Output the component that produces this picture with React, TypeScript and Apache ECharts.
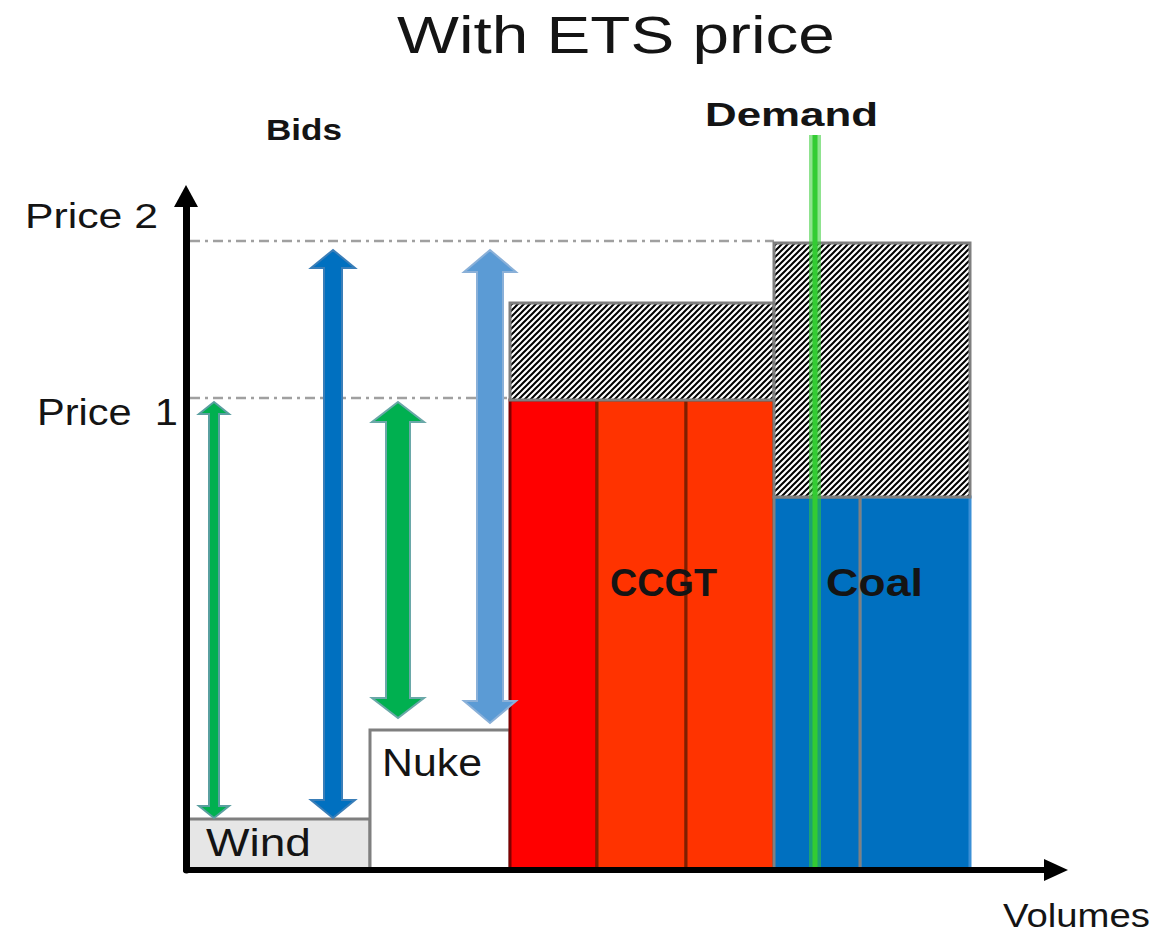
import React, { useEffect, useRef } from 'react';
import * as echarts from 'echarts';

// ---- Data (volume units on x, price units on y) ----
const blockNames = ['Wind', 'Nuke', 'CCGT 1', 'CCGT 2', 'CCGT 3', 'Coal 1', 'Coal 2'];
const blockStart = [0, 18.4, 32.4, 41.1, 50.0, 58.8, 67.4];
const blockEnd = [18.4, 32.4, 41.1, 50.0, 58.8, 67.4, 78.4];
const blockBid = [5.1, 14.0, 47.0, 47.0, 47.0, 37.3, 37.3];

const etsNames = ['CCGT + ETS', 'Coal + ETS'];
const etsStart = [32.4, 58.8];
const etsEnd = [58.8, 78.4];
const etsLow = [47.0, 37.3];
const etsHigh = [56.7, 62.7];

const bidArrowX = [2.8, 14.7, 21.2, 30.4];
const bidArrowLow = [5.2, 5.2, 15.2, 14.7];
const bidArrowHigh = [46.8, 62.0, 46.8, 62.0];

const priceNames = ['Price  1', 'Price 2'];
const priceLevels = [47.2, 62.9];
const priceLineEnd = [32.4, 58.8];

const demandVolume = 62.9;
const demandTop = 73.5;

// ---- Styles ----
const blockStyles = [
  { fill: '#e6e6e6', stroke: '#7f7f7f', z2: 1 },
  { fill: '#ffffff', stroke: '#7f7f7f', z2: 2 },
  { fill: '#ff0000', stroke: '#800000', z2: 3 },
  { fill: '#ff3300', stroke: '#7f1f00', z2: 4 },
  { fill: '#ff3300', stroke: '#7f1f00', z2: 5 },
  { fill: '#0070c0', stroke: '#808080', z2: 7 },
  { fill: '#0070c0', stroke: '#3b8fd6', z2: 6 },
];

const arrowStyles = [
  { fill: '#00b050', stroke: '#5a9fa0', shaft: 10, head: 30, len: 12 },
  { fill: '#0070c0', stroke: '#3a7eb8', shaft: 18, head: 44, len: 18 },
  { fill: '#00b050', stroke: '#6aa8a8', shaft: 24, head: 52, len: 20 },
  { fill: '#5b9bd5', stroke: '#8ab0d8', shaft: 26, head: 52, len: 22 },
];

const FONT = '"Liberation Sans", Arial, Helvetica, sans-serif';

const textItems = [
  { t: 'With ETS price', x: 397, y: 35, fs: 52, w: 438, bold: false },
  { t: 'Bids', x: 266, y: 129, fs: 30, w: 76, bold: true },
  { t: 'Demand', x: 705, y: 114, fs: 34, w: 173, bold: true },
  { t: 'Price 2', x: 25, y: 215, fs: 36, w: 133, bold: false },
  { t: 'Price  1', x: 37, y: 413, fs: 36, w: 141, bold: false },
  { t: 'Wind', x: 206, y: 843, fs: 38, w: 105, bold: false },
  { t: 'Nuke', x: 382, y: 763, fs: 38, w: 100, bold: false },
  { t: 'CCGT', x: 610, y: 583, fs: 38, w: 107, bold: true },
  { t: 'Coal', x: 826, y: 583, fs: 38, w: 97, bold: true },
  { t: 'Volumes', x: 1003, y: 915, fs: 34, w: 147, bold: false },
];

function makeHatch() {
  const s = 6;
  const c = document.createElement('canvas');
  c.width = s;
  c.height = s;
  const ctx = c.getContext('2d')!;
  ctx.fillStyle = '#ffffff';
  ctx.fillRect(0, 0, s, s);
  ctx.strokeStyle = '#000000';
  ctx.lineWidth = 2;
  ctx.beginPath();
  ctx.moveTo(-1, s + 1);
  ctx.lineTo(s + 1, -1);
  ctx.moveTo(-1, 1);
  ctx.lineTo(1, -1);
  ctx.moveTo(s - 1, s + 1);
  ctx.lineTo(s + 1, s - 1);
  ctx.stroke();
  return { image: c, repeat: 'repeat', imageWidth: s, imageHeight: s };
}

function measure(t: string, fs: number, bold: boolean) {
  const c = document.createElement('canvas');
  const ctx = c.getContext('2d')!;
  ctx.font = `${bold ? 'bold ' : ''}${fs}px ${FONT}`;
  return ctx.measureText(t).width || 1;
}

export default function App() {
  const ref = useRef<HTMLDivElement>(null);

  useEffect(() => {
    if (!ref.current) return;
    const chart = echarts.init(ref.current, null, { renderer: 'svg' });
    const hatch = makeHatch();

    const graphics = textItems.map((it) => ({
      type: 'text',
      x: it.x,
      y: it.y,
      scaleX: it.w / measure(it.t, it.fs, it.bold),
      z: 100,
      style: {
        x: 0,
        y: 0,
        text: it.t,
        fill: '#141414',
        font: `${it.bold ? 'bold ' : ''}${it.fs}px ${FONT}`,
        textAlign: 'left',
        textVerticalAlign: 'middle',
      },
    }));

    const option: any = {
      animation: false,
      backgroundColor: '#ffffff',
      grid: { left: 186, right: 118, top: 196, bottom: 66, containLabel: false },
      xAxis: {
        type: 'value',
        min: 0,
        max: 87,
        z: 10,
        axisLine: {
          show: true,
          onZero: false,
          symbol: ['none', 'triangle'],
          symbolSize: [22, 24],
          lineStyle: { color: '#000000', width: 6 },
        },
        axisTick: { show: false },
        axisLabel: { show: false },
        splitLine: { show: false },
      },
      yAxis: {
        type: 'value',
        min: 0,
        max: 67.4,
        z: 10,
        axisLine: {
          show: true,
          onZero: false,
          symbol: ['none', 'triangle'],
          symbolSize: [24, 22],
          lineStyle: { color: '#000000', width: 7 },
        },
        axisTick: { show: false },
        axisLabel: { show: false },
        splitLine: { show: false },
      },
      graphic: graphics,
      series: [
        {
          name: 'Price levels',
          type: 'custom',
          z: 1,
          clip: false,
          data: priceLevels.map((p, i) => ({ name: priceNames[i], value: [0, priceLineEnd[i], p] })),
          encode: { x: [0, 1], y: 2 },
          renderItem: (params: any, api: any) => {
            const a = api.coord([api.value(0), api.value(2)]);
            const b = api.coord([api.value(1), api.value(2)]);
            return {
              type: 'line',
              shape: { x1: a[0] + 4, y1: a[1], x2: b[0], y2: b[1] },
              style: { stroke: '#a0a0a0', lineWidth: 2.5, lineDash: [10, 5, 3, 5] },
            };
          },
        },
        {
          name: 'Bids',
          type: 'custom',
          z: 2,
          clip: false,
          data: blockStart.map((s, i) => ({ name: blockNames[i], value: [s, blockEnd[i], 0, blockBid[i]] })),
          encode: { x: [0, 1], y: [2, 3] },
          renderItem: (params: any, api: any) => {
            const st = blockStyles[params.dataIndex];
            const p0 = api.coord([api.value(0), api.value(3)]);
            const p1 = api.coord([api.value(1), api.value(2)]);
            return {
              type: 'rect',
              z2: st.z2,
              shape: { x: p0[0], y: p0[1], width: p1[0] - p0[0], height: p1[1] - p0[1] },
              style: { fill: st.fill, stroke: st.stroke, lineWidth: 3 },
            };
          },
        },
        {
          name: 'ETS cost',
          type: 'custom',
          z: 3,
          clip: false,
          data: etsStart.map((s, i) => ({ name: etsNames[i], value: [s, etsEnd[i], etsLow[i], etsHigh[i]] })),
          encode: { x: [0, 1], y: [2, 3] },
          renderItem: (params: any, api: any) => {
            const p0 = api.coord([api.value(0), api.value(3)]);
            const p1 = api.coord([api.value(1), api.value(2)]);
            return {
              type: 'rect',
              shape: { x: p0[0], y: p0[1], width: p1[0] - p0[0], height: p1[1] - p0[1] },
              style: { fill: hatch, stroke: '#7f7f7f', lineWidth: 3 },
            };
          },
        },
        {
          name: 'Bid ranges',
          type: 'custom',
          z: 4,
          clip: false,
          data: bidArrowX.map((x, i) => [x, bidArrowLow[i], bidArrowHigh[i]]),
          encode: { x: 0, y: [1, 2] },
          renderItem: (params: any, api: any) => {
            const st = arrowStyles[params.dataIndex];
            const top = api.coord([api.value(0), api.value(2)]);
            const bot = api.coord([api.value(0), api.value(1)]);
            const cx = top[0];
            const ty = top[1];
            const by = bot[1];
            const w = st.shaft / 2;
            const H = st.head / 2;
            const L = st.len;
            return {
              type: 'polygon',
              shape: {
                points: [
                  [cx, ty],
                  [cx + H, ty + L],
                  [cx + w, ty + L],
                  [cx + w, by - L],
                  [cx + H, by - L],
                  [cx, by],
                  [cx - H, by - L],
                  [cx - w, by - L],
                  [cx - w, ty + L],
                  [cx - H, ty + L],
                ],
              },
              style: { fill: st.fill, stroke: st.stroke, lineWidth: 2 },
            };
          },
        },
        {
          name: 'Demand',
          type: 'custom',
          z: 5,
          clip: false,
          data: [[demandVolume, 0, demandTop]],
          encode: { x: 0, y: [1, 2] },
          renderItem: (params: any, api: any) => {
            const a = api.coord([api.value(0), api.value(1)]);
            const b = api.coord([api.value(0), api.value(2)]);
            return {
              type: 'group',
              children: [
                {
                  type: 'line',
                  shape: { x1: a[0], y1: a[1] - 3, x2: b[0], y2: b[1] },
                  style: { stroke: 'rgba(51,204,51,0.55)', lineWidth: 12 },
                },
                {
                  type: 'line',
                  shape: { x1: a[0], y1: a[1] - 3, x2: b[0], y2: b[1] },
                  style: { stroke: '#33cc33', lineWidth: 5 },
                },
              ],
            };
          },
        },
      ],
    };

    chart.setOption(option);
    return () => {
      chart.dispose();
    };
  }, []);

  return (
    <div
      ref={ref}
      style={{ position: 'absolute', left: 0, top: 0, width: 1174, height: 936, background: '#ffffff' }}
    />
  );
}
